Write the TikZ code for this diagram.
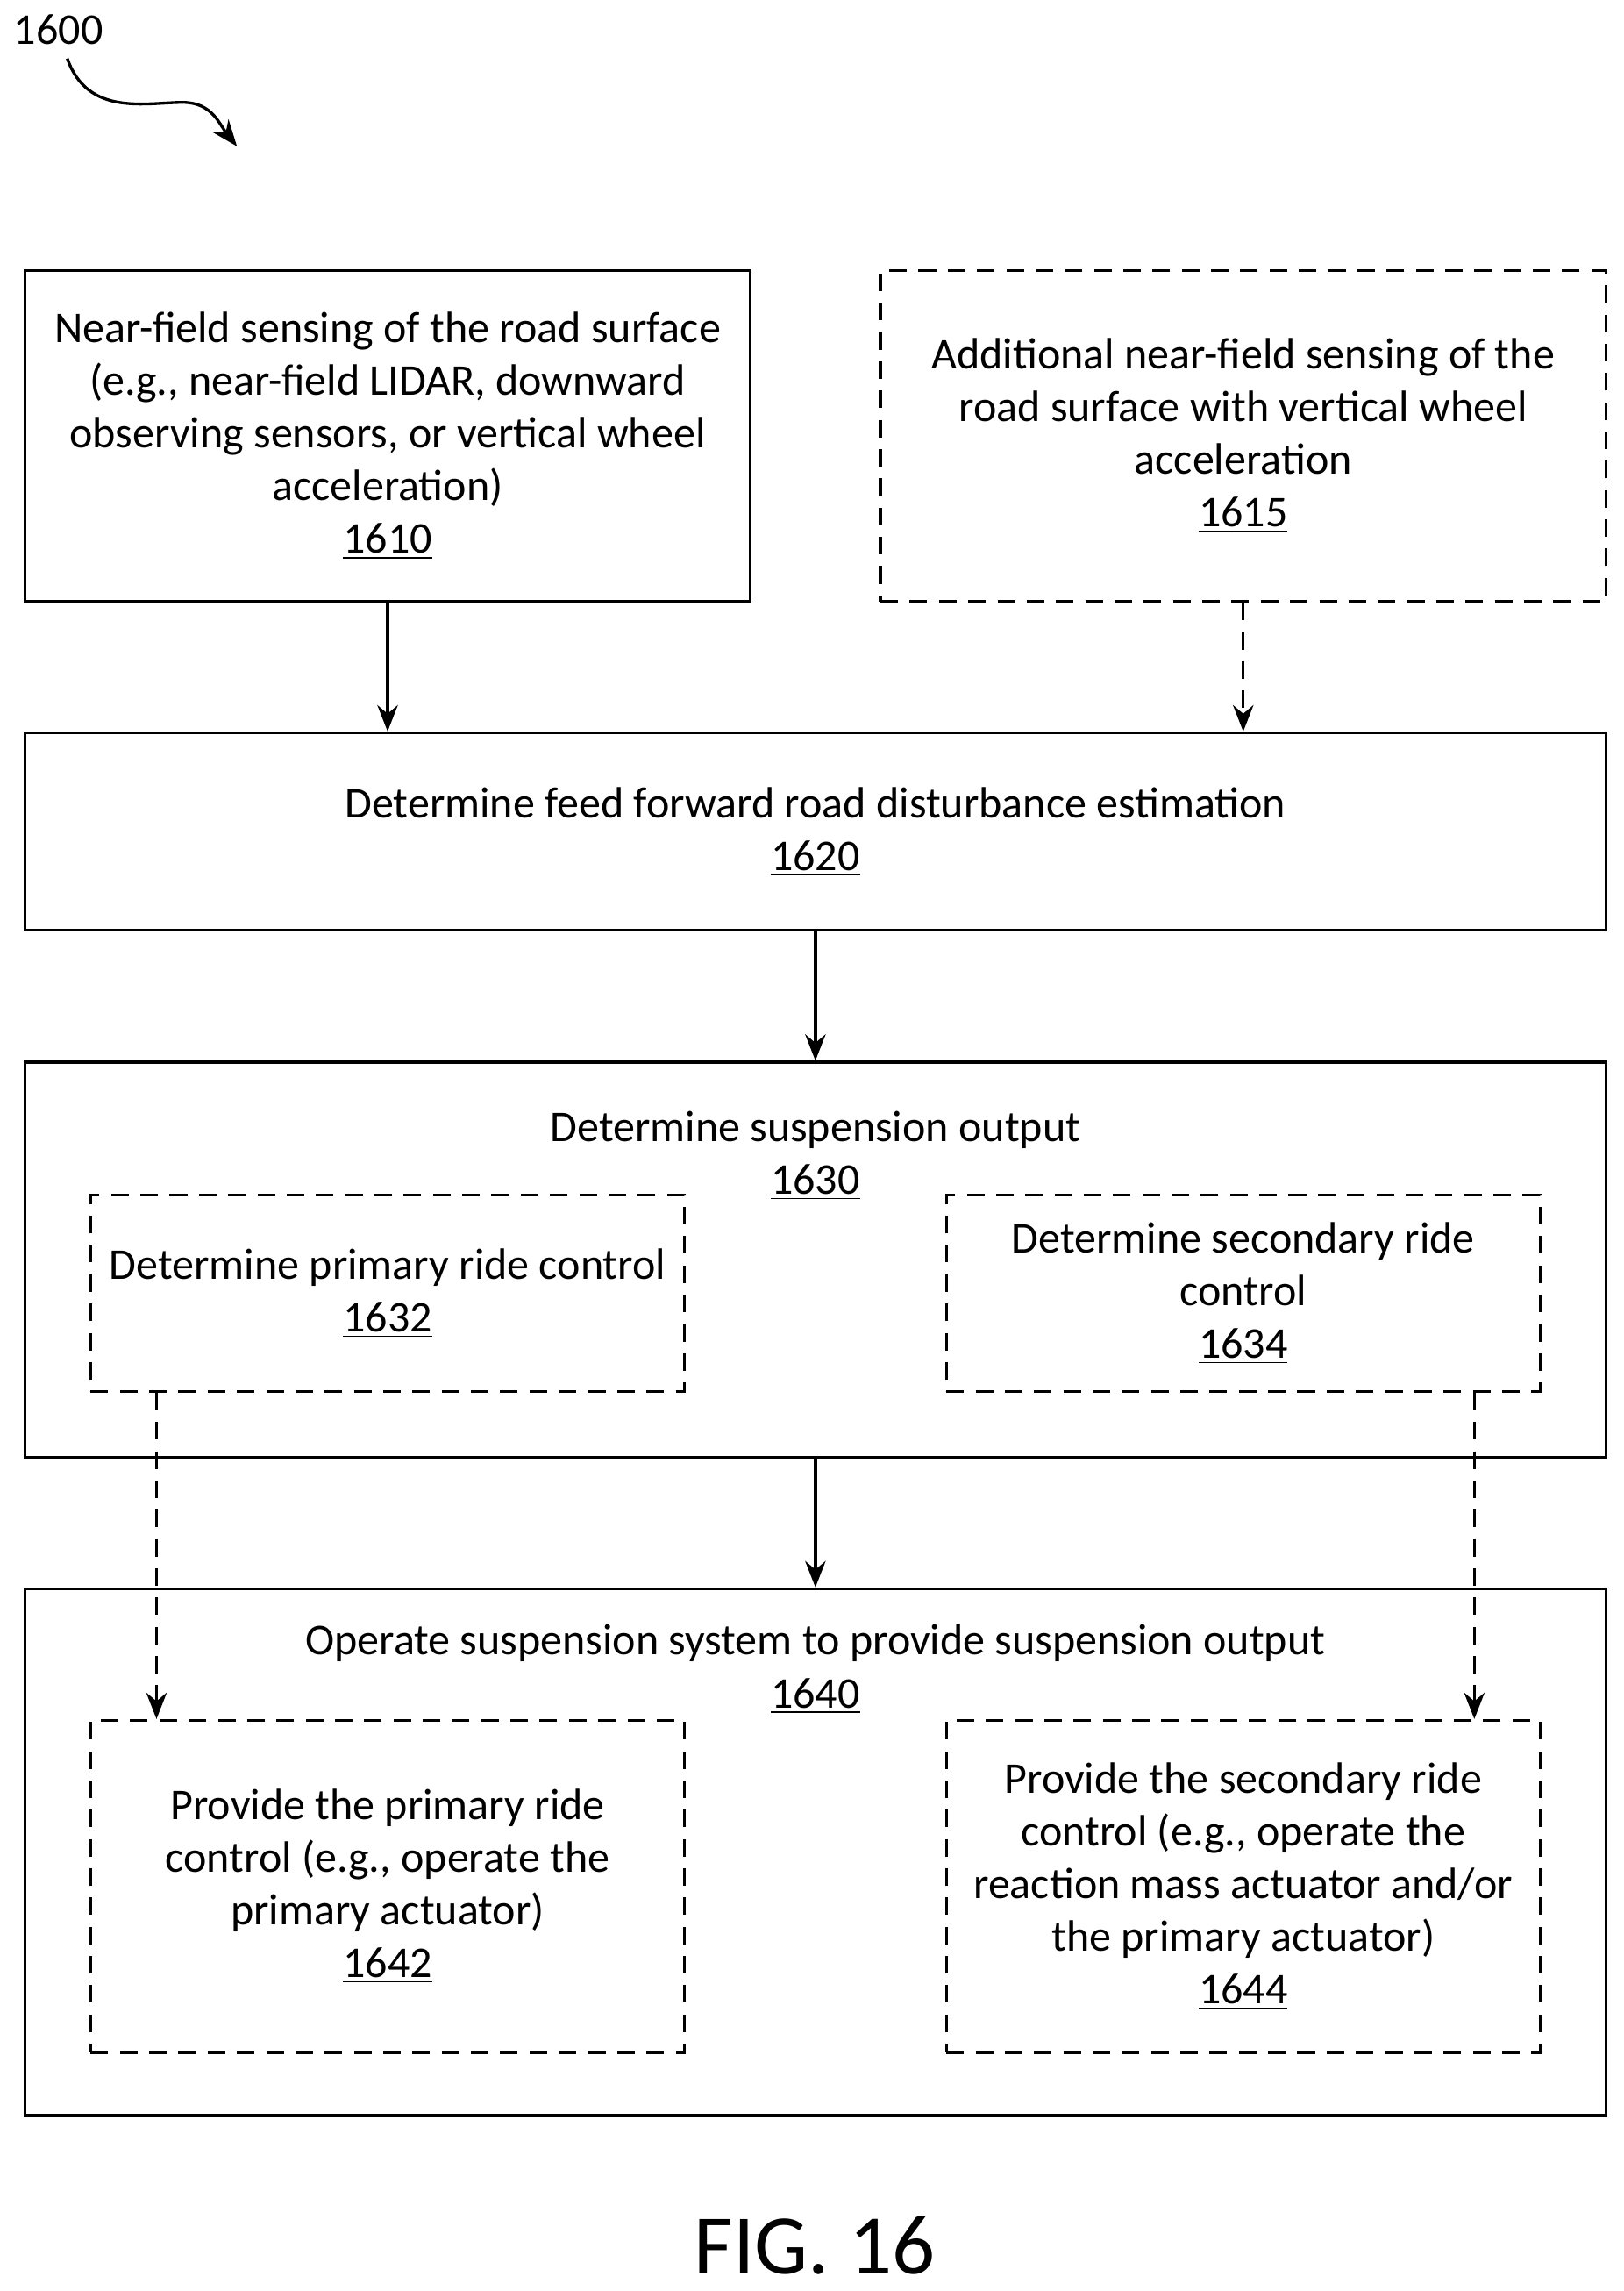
\documentclass[tikz,border=0pt]{standalone}
\usepackage{fontspec}
\setmainfont{Carlito}
\usetikzlibrary{arrows.meta}
\begin{document}
\begin{tikzpicture}[x=0.5pt,y=-0.5pt,
  box/.style={draw,line width=1pt},
  dbox/.style={draw,line width=1pt,dash pattern=on 6pt off 4pt},
  txt/.style={align=center,font=\fontsize{15}{18}\selectfont,inner sep=0},
  arr/.style={-{Stealth[length=9pt,width=7pt]},line width=1pt},
  darr/.style={arr,dash pattern=on 6pt off 4pt}]
\useasboundingbox (0,0) rectangle (1110,1566);
\node[txt] (l1600) at (40,20) {1600};
\coordinate (c1600) at (162,100);
\draw[arr] (46,40) .. controls (60,80) and (100,70) .. (125,70) .. controls (145,70) and (150,85) .. (c1600);
% boxes
\node[box,minimum width=248pt,minimum height=113pt] (b1610) at (265,298) {};
\node[dbox,minimum width=248pt,minimum height=113pt] (b1615) at (850,298) {};
\node[box,minimum width=540.5pt,minimum height=67.5pt] (b1620) at (557.5,568.5) {};
\node[box,minimum width=540.5pt,minimum height=135pt] (b1630) at (557.5,861) {};
\node[dbox,minimum width=203pt,minimum height=67pt] (b1632) at (265,884) {};
\node[dbox,minimum width=203pt,minimum height=67pt] (b1634) at (850,884) {};
\node[box,minimum width=540.5pt,minimum height=180pt] (b1640) at (557.5,1266) {};
\node[dbox,minimum width=203pt,minimum height=113.5pt] (b1642) at (265,1289.5) {};
\node[dbox,minimum width=203pt,minimum height=113.5pt] (b1644) at (850,1289.5) {};
% texts
\node[txt] (t1610) at (265,298) {Near-field sensing of the road surface\\(e.g., near-field LIDAR, downward\\observing sensors, or vertical wheel\\acceleration)\\\underline{1610}};
\node[txt] (t1615) at (850,298) {Additional near-field sensing of the\\road surface with vertical wheel\\acceleration\\\underline{1615}};
\node[txt] (t1620) at (557.5,568.5) {Determine feed forward road disturbance estimation\\\underline{1620}};
\node[txt] (t1630) at (557.5,790) {Determine suspension output\\\underline{1630}};
\node[txt] (t1632) at (265,884) {Determine primary ride control\\\underline{1632}};
\node[txt] (t1634) at (850,884) {Determine secondary ride\\control\\\underline{1634}};
\node[txt] (t1640) at (557.5,1141) {Operate suspension system to provide suspension output\\\underline{1640}};
\node[txt] (t1642) at (265,1289.5) {Provide the primary ride\\control (e.g., operate the\\primary actuator)\\\underline{1642}};
\node[txt] (t1644) at (850,1289.5) {Provide the secondary ride\\control (e.g., operate the\\reaction mass actuator and/or\\the primary actuator)\\\underline{1644}};
\node[inner sep=0,font=\fontsize{29}{32}\selectfont] (fig) at (557,1535) {FIG. 16};
% arrows
\draw[arr] (b1610.south) -- (b1610.south |- b1620.north);
\draw[darr] (b1615.south) -- (b1615.south |- b1620.north);
\draw[arr] (b1620.south) -- (b1630.north);
\draw[arr] (b1630.south) -- (b1640.north);
\draw[darr] ([xshift=-79pt]b1632.south) -- ([xshift=-79pt]b1642.north);
\draw[darr] ([xshift=79pt]b1634.south) -- ([xshift=79pt]b1644.north);
\end{tikzpicture}
\end{document}
